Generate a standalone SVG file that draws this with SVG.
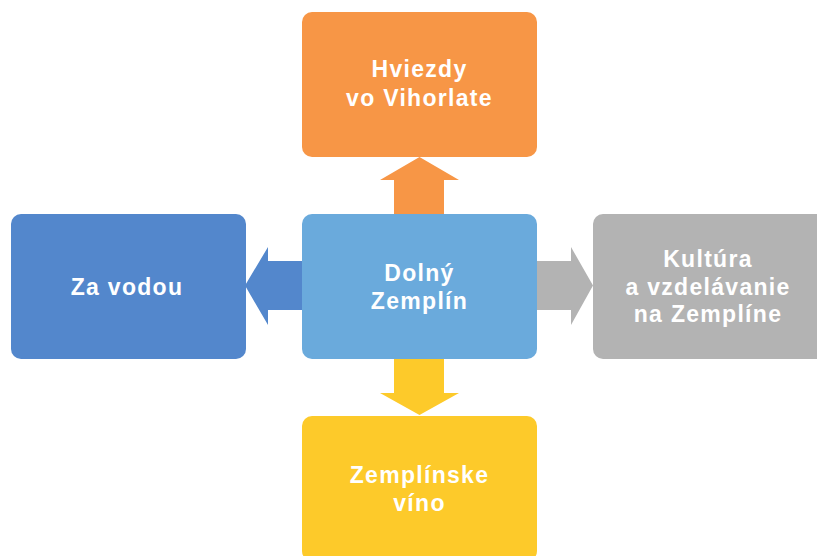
<svg xmlns="http://www.w3.org/2000/svg" width="817" height="556" viewBox="0 0 817 556">
<style>
.t{font-family:"Liberation Sans",Arial,sans-serif;font-weight:700;font-size:23px;fill:#fff;text-anchor:middle;letter-spacing:1.3px}
</style>
<rect width="817" height="556" fill="#fff"/>
<g id="connectors">
<polygon points="394,214 394,180 380,180 419.5,157 459,180 444,180 444,214" fill="#F79646"/>
<polygon points="394,359 394,393 380,393 419.5,415 459,393 444,393 444,359" fill="#FDCA2A"/>
<polygon points="302,261 268,261 268,247 245,285.5 268,325 268,310 302,310" fill="#5387CC"/>
<polygon points="537,261 571,261 571,247 593,285.5 571,325 571,310 537,310" fill="#B3B3B3"/>
</g>
<g id="top">
<rect x="302" y="12" width="235" height="145" rx="10" fill="#F79646"/>
<text class="t" x="419.5" y="77">Hviezdy</text>
<text class="t" x="419.5" y="106">vo Vihorlate</text>
</g>
<g id="left">
<rect x="11" y="214" width="235" height="145" rx="10" fill="#5387CC"/>
<text class="t" x="127" y="295">Za vodou</text>
</g>
<g id="right">
<rect x="593" y="214" width="235" height="145" rx="10" fill="#B3B3B3"/>
<text class="t" x="708" y="267">Kultúra</text>
<text class="t" x="708" y="294.5">a vzdelávanie</text>
<text class="t" x="708" y="322">na Zemplíne</text>
</g>
<g id="bottom">
<rect x="302" y="416" width="235" height="145" rx="10" fill="#FDCA2A"/>
<text class="t" x="419.5" y="483">Zemplínske</text>
<text class="t" x="419.5" y="511">víno</text>
</g>
<g id="center">
<rect x="302" y="214" width="235" height="145" rx="10" fill="#6AAADC"/>
<text class="t" x="419.5" y="281">Dolný</text>
<text class="t" x="419.5" y="308.5">Zemplín</text>
</g>
</svg>
